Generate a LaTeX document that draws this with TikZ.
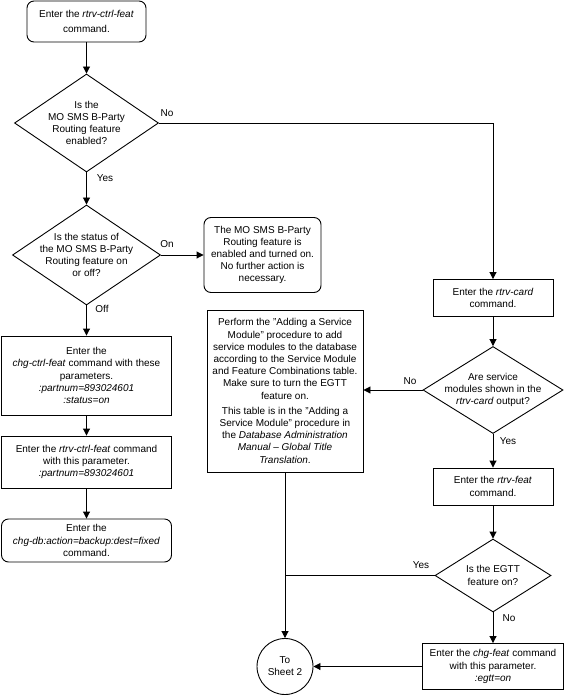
\documentclass[tikz,border=0pt]{standalone}
\usepackage{fontspec}
\setmainfont{Liberation Sans}
\usetikzlibrary{arrows.meta,shapes.geometric,positioning}

\begin{document}
\begin{tikzpicture}[x=1pt,y=-1pt,
  txt/.style={font=\fontsize{10}{12.2}\selectfont,align=center},
  proc/.style={txt,draw,line width=0.9pt,inner sep=2pt},
  term/.style={proc,rounded corners=7pt},
  dec/.style={txt,draw,line width=0.9pt,diamond,aspect=1.5,inner sep=-12pt},
  lbl/.style={font=\fontsize{10}{12}\selectfont,inner sep=1pt},
  flow/.style={line width=0.9pt,-{Triangle[length=7pt,width=7pt]}},
  line/.style={line width=0.9pt}]
\useasboundingbox (0,0) rectangle (565,695);
% left column
\node[term,minimum width=119pt,minimum height=41pt] (start) at (86.5,21.5) {Enter the \textit{rtrv-ctrl-feat}\\[3.5pt]command.};
\node[dec,minimum width=144pt,minimum height=98pt] (q1) at (86.5,123) {Is the\\MO SMS B-Party\\Routing feature\\enabled?};
\node[dec,minimum width=148pt,minimum height=100pt] (q2) at (86.5,255) {Is the status of\\the MO SMS B-Party\\Routing feature on\\or off?};
\node[term,minimum width=117pt,minimum height=75pt] (on) at (262.5,255) {The MO SMS B-Party\\Routing feature is\\enabled and turned on.\\No further action is\\necessary.};
\node[proc,minimum width=170pt,minimum height=79pt] (ctrl) at (86.5,375.5) {Enter the\\\textit{chg-ctrl-feat} command with these\\parameters.\\\textit{:partnum=893024601}\\\textit{:status=on}};
\node[proc,minimum width=170pt,minimum height=52pt] (rtrvctrl) at (86.5,462) {Enter the \textit{rtrv-ctrl-feat} command\\with this parameter.\\\textit{:partnum=893024601}};
\node[term,minimum width=170pt,minimum height=43pt] (chgdb) at (86.5,540.5) {Enter the\\\textit{chg-db:action=backup:dest=fixed}\\command.};
% middle
\node[proc,minimum width=156pt,minimum height=162pt] (perform) at (285,391) {Perform the "Adding a Service\\Module" procedure to add\\service modules to the database\\according to the Service Module\\and Feature Combinations table.\\Make sure to turn the EGTT\\feature on.\\[3pt]This table is in the "Adding a\\Service Module" procedure in\\the \textit{Database Administration}\\\textit{Manual -- Global Title}\\\textit{Translation}.};
\node[txt,draw,line width=0.9pt,circle,minimum size=56pt,inner sep=0pt] (sheet) at (285,666.5) {To\\Sheet 2};
% right column
\node[proc,minimum width=120pt,minimum height=37pt] (rtrvcard) at (493,298) {Enter the \textit{rtrv-card}\\command.};
\node[dec,minimum width=140pt,minimum height=87pt] (q3) at (493,390) {Are service\\modules shown in the\\\textit{rtrv-card} output?};
\node[proc,minimum width=120pt,minimum height=37pt] (rtrvfeat) at (493,486.5) {Enter the \textit{rtrv-feat}\\command.};
\node[dec,minimum width=116pt,minimum height=73pt] (q4) at (493,575.5) {Is the EGTT\\feature on?};
\node[proc,minimum width=141pt,minimum height=46pt] (chgfeat) at (493,666.5) {Enter the \textit{chg-feat} command\\with this parameter.\\\textit{:egtt=on}};
% connectors
\draw[flow] (start) -- (q1);
\draw[flow] (q1.east) -| (rtrvcard.north);
\draw[flow] (q1) -- (q2);
\draw[flow] (q2.east) -- (on.west);
\draw[flow] (q2) -- (ctrl);
\draw[flow] (ctrl) -- (rtrvctrl);
\draw[flow] (rtrvctrl) -- (chgdb);
\draw[flow] (rtrvcard) -- (q3);
\draw[flow] (q3.west) -- (q3.west -| perform.east);
\draw[flow] (q3) -- (rtrvfeat);
\draw[flow] (rtrvfeat) -- (q4);
\draw[flow] (q4) -- (chgfeat);
\draw[flow] (perform) -- (sheet);
\draw[line] (q4.west) -- (q4.west -| perform.south);
\draw[flow] (chgfeat) -- (sheet);
% labels
\node[lbl] (no1) at (167,113) {No};
\node[lbl] (yes1) at (105,178) {Yes};
\node[lbl] (on1) at (167,244) {On};
\node[lbl] (off1) at (102,309) {Off};
\node[lbl] (no3) at (410,381) {No};
\node[lbl] (yes3) at (508,441) {Yes};
\node[lbl] (yes4) at (421,565) {Yes};
\node[lbl] (no4) at (509,618) {No};
\end{tikzpicture}
\end{document}
